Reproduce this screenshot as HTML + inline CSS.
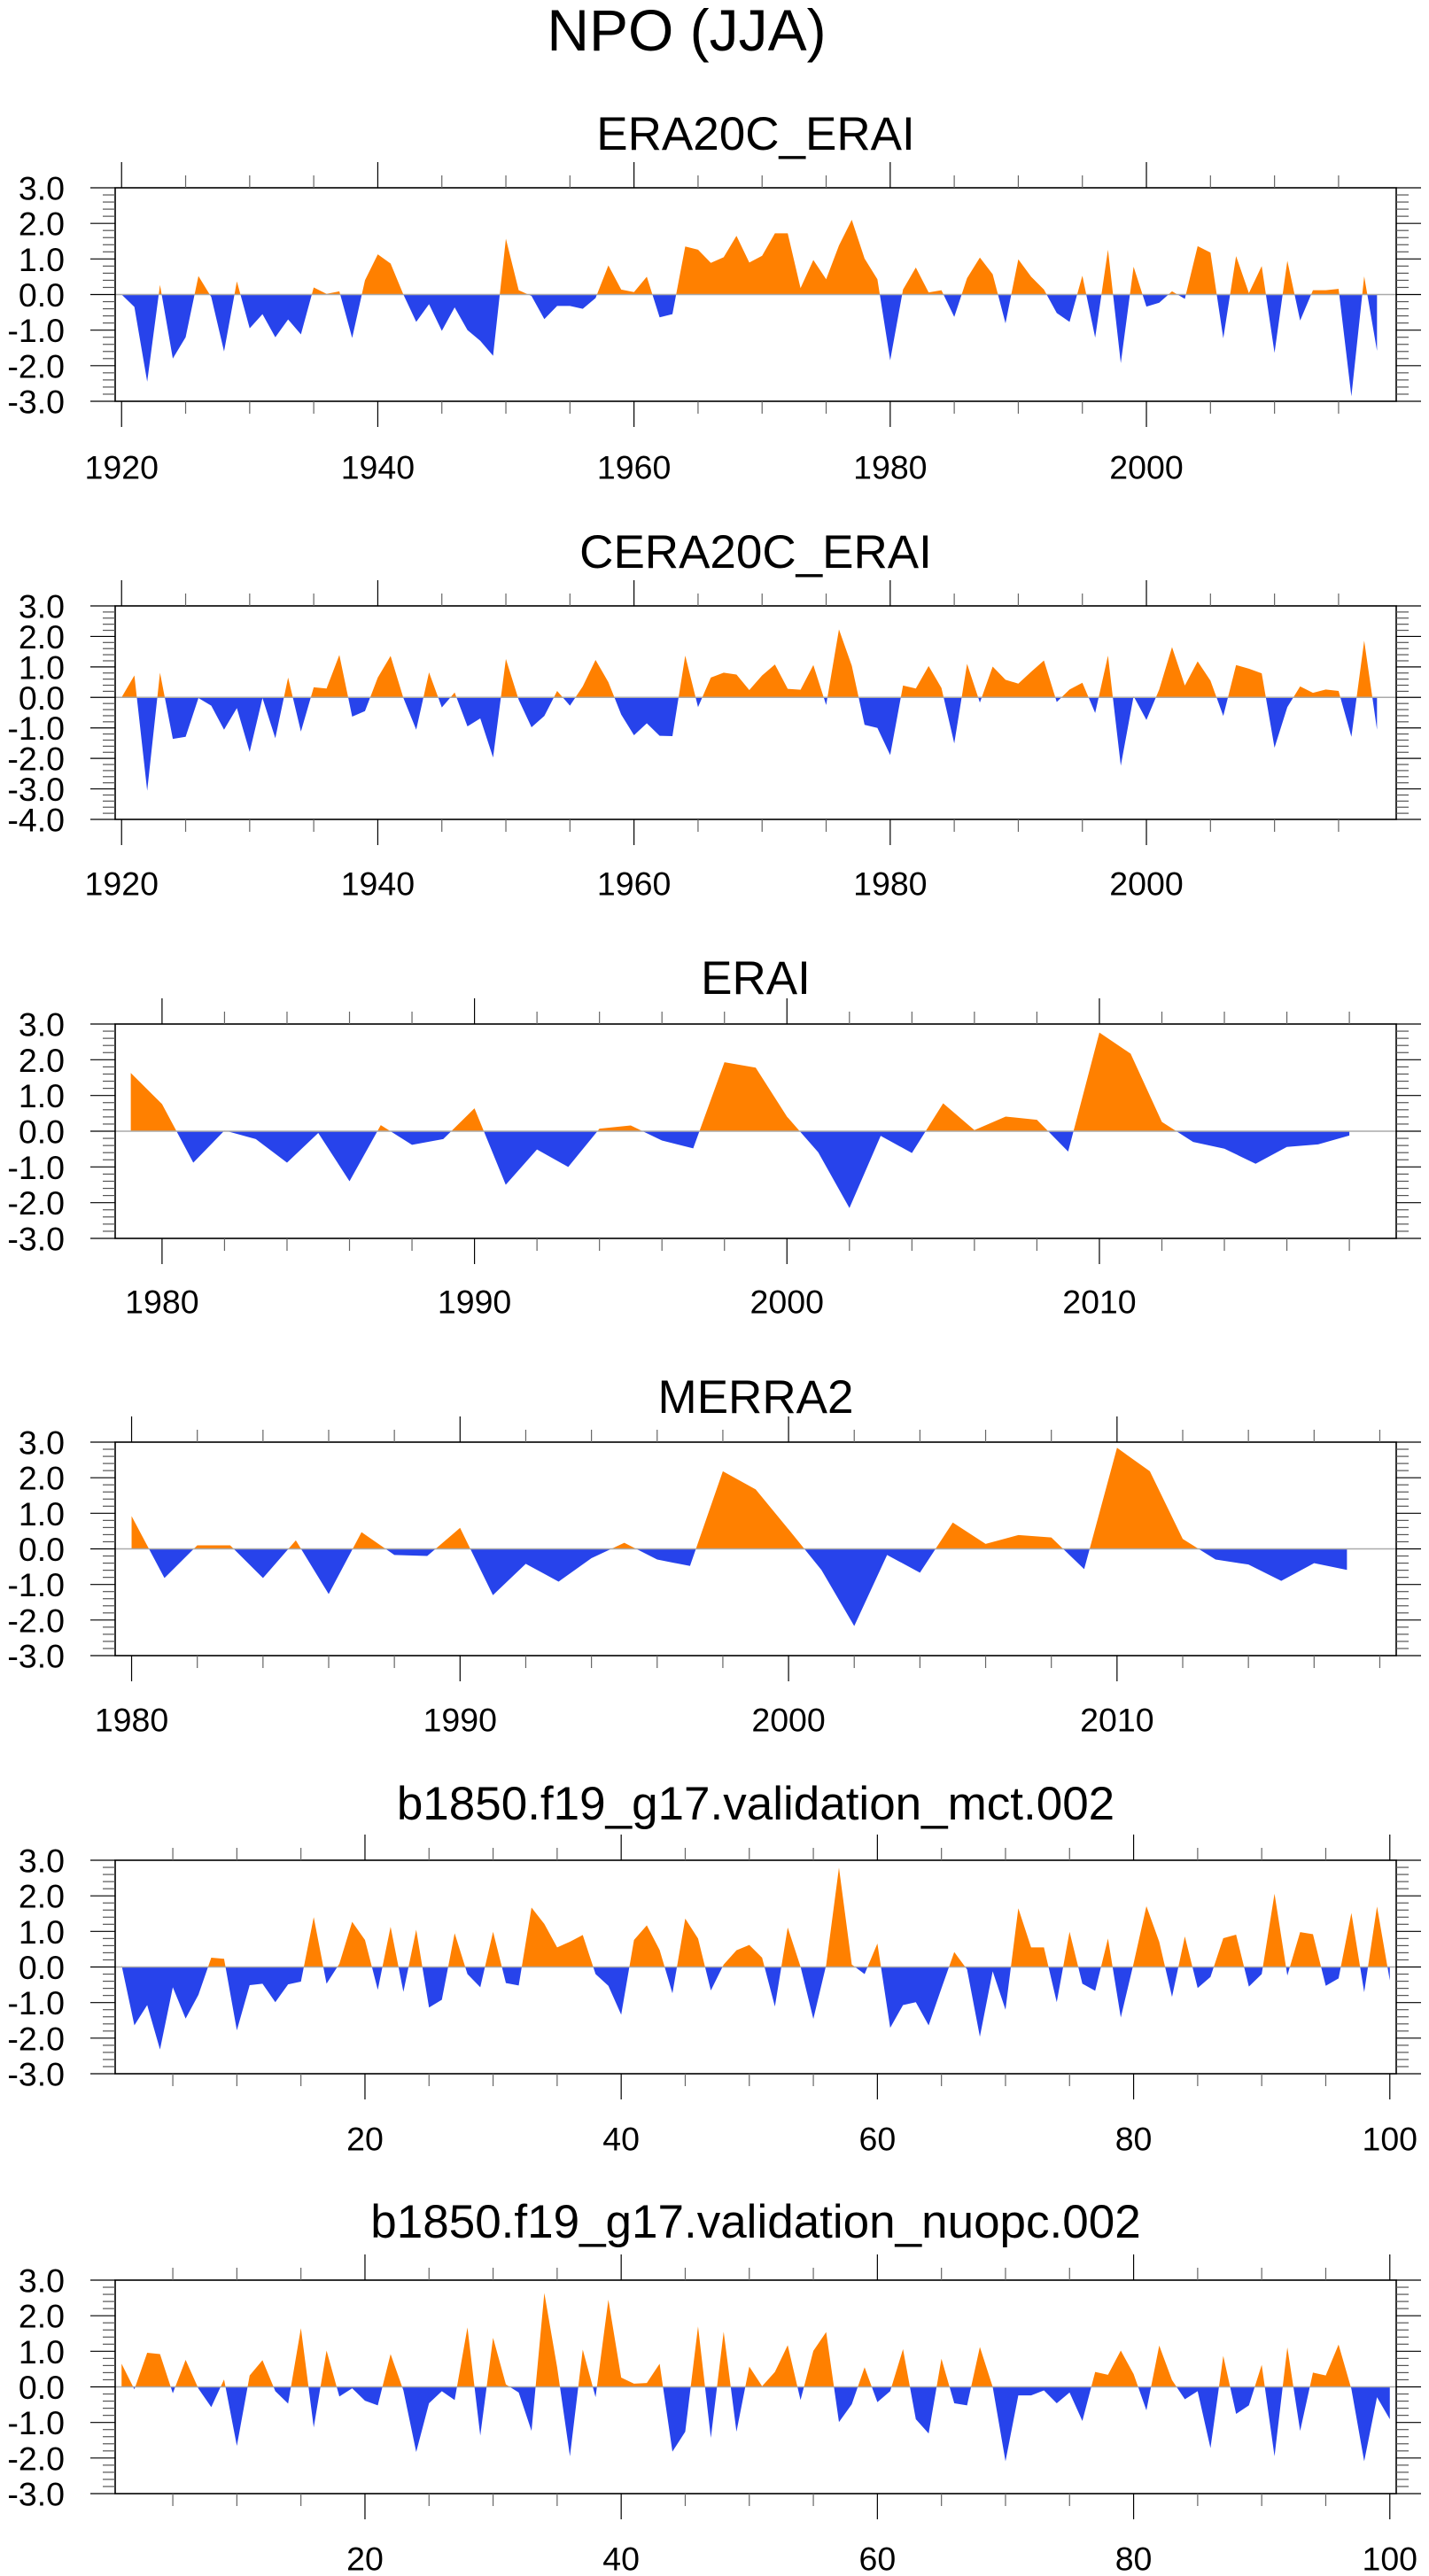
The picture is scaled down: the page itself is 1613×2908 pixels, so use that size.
<!DOCTYPE html>
<html>
<head>
<meta charset="utf-8">
<style>
  html, body { margin: 0; padding: 0; background: #ffffff; }
  svg { display: block; }
  text { font-family: "Liberation Sans", sans-serif; fill: #000; }
</style>
</head>
<body>
<svg id="chart" xmlns="http://www.w3.org/2000/svg" width="1613" height="2908" viewBox="0 0 1613 2908">
  <rect x="0" y="0" width="1613" height="2908" fill="#ffffff"/>
  <text x="775" y="57" font-size="66" text-anchor="middle">NPO (JJA)</text>
</svg>
<script>
// ---------- Data ----------
const era20cStartYear = 1920;
const era20cValues = [0.0,-0.35,-2.45,0.27,-1.8,-1.2,0.52,-0.07,-1.6,0.37,
  -0.95,-0.55,-1.2,-0.7,-1.12,0.2,0.02,0.09,-1.22,0.4,
  1.13,0.87,0.0,-0.77,-0.27,-1.02,-0.36,-1.0,-1.3,-1.72,
  1.57,0.12,-0.04,-0.69,-0.32,-0.32,-0.4,-0.1,0.82,0.14,
  0.07,0.5,-0.64,-0.55,1.35,1.26,0.89,1.05,1.65,0.9,
  1.09,1.72,1.72,0.18,0.97,0.43,1.38,2.1,1.01,0.43,
  -1.85,0.14,0.76,0.06,0.12,-0.63,0.46,1.04,0.57,-0.81,
  0.99,0.5,0.14,-0.52,-0.77,0.53,-1.21,1.26,-1.93,0.78,
  -0.34,-0.23,0.09,-0.12,1.36,1.18,-1.23,1.08,0.04,0.8,
  -1.64,0.95,-0.73,0.12,0.12,0.16,-2.86,0.51,-1.58];

const cera20cStartYear = 1920;
const cera20cValues = [0.0,0.72,-3.06,0.81,-1.36,-1.29,-0.02,-0.27,-1.06,-0.35,
  -1.79,-0.02,-1.34,0.65,-1.12,0.33,0.29,1.39,-0.63,-0.45,
  0.65,1.36,-0.02,-1.06,0.82,-0.33,0.16,-0.95,-0.69,-1.97,
  1.26,-0.08,-0.98,-0.61,0.21,-0.27,0.36,1.23,0.5,-0.56,
  -1.24,-0.85,-1.26,-1.27,1.37,-0.32,0.65,0.81,0.75,0.24,
  0.72,1.08,0.28,0.25,1.06,-0.25,2.23,1.04,-0.9,-1.0,
  -1.89,0.39,0.29,1.03,0.31,-1.51,1.1,-0.17,1.01,0.58,
  0.45,0.84,1.21,-0.15,0.26,0.48,-0.51,1.37,-2.24,0.04,
  -0.74,0.26,1.65,0.39,1.18,0.55,-0.61,1.06,0.94,0.79,
  -1.65,-0.32,0.36,0.15,0.26,0.21,-1.29,1.86,-1.06];

const eraiStartYear = 1979;
const eraiValues = [1.63,0.76,-0.88,0.02,-0.22,-0.88,-0.05,-1.4,0.17,-0.38,
  -0.22,0.64,-1.5,-0.51,-1.0,0.07,0.16,-0.26,-0.48,1.93,
  1.78,0.41,-0.59,-2.15,-0.13,-0.61,0.78,0.03,0.41,0.32,
  -0.57,2.76,2.17,0.26,-0.3,-0.49,-0.91,-0.44,-0.37,-0.12];

const merra2StartYear = 1980;
const merra2Values = [0.92,-0.82,0.1,0.1,-0.82,0.24,-1.27,0.47,-0.17,-0.2,
  0.59,-1.3,-0.42,-0.92,-0.26,0.17,-0.3,-0.48,2.18,1.67,
  0.55,-0.59,-2.17,-0.17,-0.67,0.74,0.14,0.39,0.32,-0.57,
  2.84,2.18,0.28,-0.3,-0.44,-0.9,-0.4,-0.59];

const mctStart = 1;
const mctValues = [0.05,-1.64,-1.07,-2.32,-0.57,-1.45,-0.78,0.26,0.23,-1.78,
  -0.51,-0.47,-0.99,-0.49,-0.41,1.4,-0.47,0.09,1.27,0.76,
  -0.64,1.13,-0.7,1.05,-1.14,-0.92,0.95,-0.2,-0.57,0.99,
  -0.45,-0.52,1.67,1.21,0.55,0.71,0.9,-0.2,-0.53,-1.34,
  0.76,1.17,0.48,-0.74,1.36,0.8,-0.66,0.07,0.47,0.62,
  0.26,-1.11,1.11,0.01,-1.46,0.05,2.79,0.07,-0.2,0.66,
  -1.71,-1.07,-0.99,-1.64,-0.6,0.42,-0.07,-1.96,-0.12,-1.2,
  1.65,0.55,0.55,-0.99,0.99,-0.47,-0.67,0.8,-1.42,0.1,
  1.71,0.71,-0.84,0.86,-0.59,-0.28,0.81,0.91,-0.55,-0.2,
  2.06,-0.24,0.98,0.92,-0.53,-0.32,1.52,-0.71,1.7,-0.38];

const nuopcStart = 1;
const nuopcValues = [0.65,-0.07,0.96,0.92,-0.18,0.76,-0.05,-0.57,0.21,-1.66,
  0.32,0.75,-0.12,-0.47,1.65,-1.14,1.02,-0.27,-0.04,-0.39,
  -0.52,0.92,-0.1,-1.83,-0.46,-0.12,-0.37,1.67,-1.37,1.38,
  0.07,-0.16,-1.24,2.64,0.55,-1.95,1.05,-0.29,2.45,0.26,
  0.09,0.11,0.65,-1.82,-1.26,1.7,-1.43,1.55,-1.26,0.57,
  0.02,0.42,1.17,-0.37,1.01,1.54,-0.99,-0.49,0.55,-0.43,
  -0.12,1.06,-0.91,-1.31,0.79,-0.46,-0.52,1.12,0.0,-2.09,
  -0.24,-0.24,-0.1,-0.46,-0.16,-0.96,0.42,0.34,1.02,0.36,
  -0.66,1.16,0.19,-0.35,-0.12,-1.72,0.87,-0.76,-0.52,0.62,
  -1.95,1.11,-1.24,0.4,0.32,1.19,-0.06,-2.09,-0.29,-0.91];

const panelTitles = ["ERA20C_ERAI","CERA20C_ERAI","ERAI","MERRA2",
  "b1850.f19_g17.validation_mct.002","b1850.f19_g17.validation_nuopc.002"];
const yearTicks100 = [1920,1940,1960,1980,2000];
const yearTicks40 = [1980,1990,2000,2010];
const indexTicks = [20,40,60,80,100];

// ---------- Layout ----------
const NS = "http://www.w3.org/2000/svg";
const svg = document.getElementById("chart");
const BOX_L = 130, BOX_R = 1576;
const POS = "#FF8000", NEG = "#2743EB";

const panels = [
  {title: panelTitles[0], values: era20cValues, start: era20cStartYear, top: 212, bot: 453, ymin: -3, ymax: 3, xmin: 1919.5, xmax: 2019.5, majors: yearTicks100, minorStep: 5, titleY: 169, labelY: 527},
  {title: panelTitles[1], values: cera20cValues, start: cera20cStartYear, top: 684, bot: 925, ymin: -4, ymax: 3, xmin: 1919.5, xmax: 2019.5, majors: yearTicks100, minorStep: 5, titleY: 641, labelY: 997},
  {title: panelTitles[2], values: eraiValues, start: eraiStartYear, top: 1156, bot: 1398, ymin: -3, ymax: 3, xmin: 1978.5, xmax: 2019.5, majors: yearTicks40, minorStep: 2, titleY: 1122, labelY: 1469},
  {title: panelTitles[3], values: merra2Values, start: merra2StartYear, top: 1628, bot: 1869, ymin: -3, ymax: 3, xmin: 1979.5, xmax: 2018.5, majors: yearTicks40, minorStep: 2, titleY: 1595, labelY: 1941},
  {title: panelTitles[4], values: mctValues, start: mctStart, top: 2100, bot: 2341, ymin: -3, ymax: 3, xmin: 0.5, xmax: 100.5, majors: indexTicks, minorStep: 5, titleY: 2054, labelY: 2414},
  {title: panelTitles[5], values: nuopcValues, start: nuopcStart, top: 2574, bot: 2815, ymin: -3, ymax: 3, xmin: 0.5, xmax: 100.5, majors: indexTicks, minorStep: 5, titleY: 2526, labelY: 2888}
];

function mk(tag, attrs, parent) {
  const e = document.createElementNS(NS, tag);
  for (const k in attrs) e.setAttribute(k, attrs[k]);
  (parent || svg).appendChild(e);
  return e;
}

panels.forEach((p, pi) => {
  const g = mk("g", {});
  
  
  const xs = v => BOX_L + (v - p.xmin) / (p.xmax - p.xmin) * (BOX_R - BOX_L);
  const ys = v => p.bot - (v - p.ymin) / (p.ymax - p.ymin) * (p.bot - p.top);
  const y0 = ys(0);

  // title
  const t = mk("text", {x: 853, y: p.titleY, "font-size": 53, "text-anchor": "middle"}, g);
  t.textContent = p.title;
  
  

  // area polygon
  let pts = [];
  const n = p.values.length;
  pts.push(xs(p.start) + "," + y0);
  for (let i = 0; i < n; i++) pts.push(xs(p.start + i) + "," + ys(p.values[i]));
  pts.push(xs(p.start + n - 1) + "," + y0);
  const ptsStr = pts.join(" ");

  const defs = mk("defs", {}, g);
  const cpA = mk("clipPath", {id: "above" + pi}, defs);
  mk("rect", {x: BOX_L, y: p.top, width: BOX_R - BOX_L, height: y0 - p.top}, cpA);
  const cpB = mk("clipPath", {id: "below" + pi}, defs);
  mk("rect", {x: BOX_L, y: y0, width: BOX_R - BOX_L, height: p.bot - y0}, cpB);

  const pos = mk("polygon", {points: ptsStr, fill: POS, "clip-path": "url(#above" + pi + ")"}, g);
  
  
  const neg = mk("polygon", {points: ptsStr, fill: NEG, "clip-path": "url(#below" + pi + ")"}, g);
  
  

  // zero line
  const zl = mk("line", {x1: BOX_L, x2: BOX_R, y1: y0, y2: y0, stroke: "#aaaaaa", "stroke-width": 1.5}, g);
  
  

  // box
  const box = mk("rect", {x: BOX_L, y: p.top, width: BOX_R - BOX_L, height: p.bot - p.top, fill: "none", stroke: "#000", "stroke-width": 1.6}, g);
  
  

  // y ticks & labels
  const yt = mk("g", {stroke: "#222", "stroke-width": 1.2}, g);
  
  
  for (let k = Math.round(p.ymin * 5); k <= Math.round(p.ymax * 5); k++) {
    const v = k / 5, yy = ys(v);
    const major = (k % 5 === 0);
    const len = major ? 28 : 14;
    mk("line", {x1: BOX_L - len, x2: BOX_L, y1: yy, y2: yy, stroke: major ? "#000" : "#555"}, yt);
    mk("line", {x1: BOX_R, x2: BOX_R + len, y1: yy, y2: yy, stroke: major ? "#000" : "#555"}, yt);
    if (major) {
      const lb = mk("text", {x: 73, y: yy + 13.5, "font-size": 37.5, "text-anchor": "end"}, g);
      lb.textContent = v.toFixed(1);
      
      
    }
  }

  // x ticks & labels
  const xt = mk("g", {"stroke-width": 1.2}, g);
  
  
  const firstMinor = Math.ceil(p.xmin / p.minorStep) * p.minorStep;
  for (let v = firstMinor; v <= p.xmax; v += p.minorStep) {
    const xx = xs(v);
    const major = p.majors.indexOf(v) >= 0;
    const len = major ? 29 : 14;
    mk("line", {x1: xx, x2: xx, y1: p.bot, y2: p.bot + len, stroke: major ? "#000" : "#666"}, xt);
    mk("line", {x1: xx, x2: xx, y1: p.top, y2: p.top - len, stroke: major ? "#000" : "#666"}, xt);
  }
  p.majors.forEach(v => {
    const lb = mk("text", {x: xs(v), y: p.labelY + 13.5, "font-size": 37.5, "text-anchor": "middle"}, g);
    lb.textContent = String(v);
    
    
  });
});
</script>
</body>
</html>
